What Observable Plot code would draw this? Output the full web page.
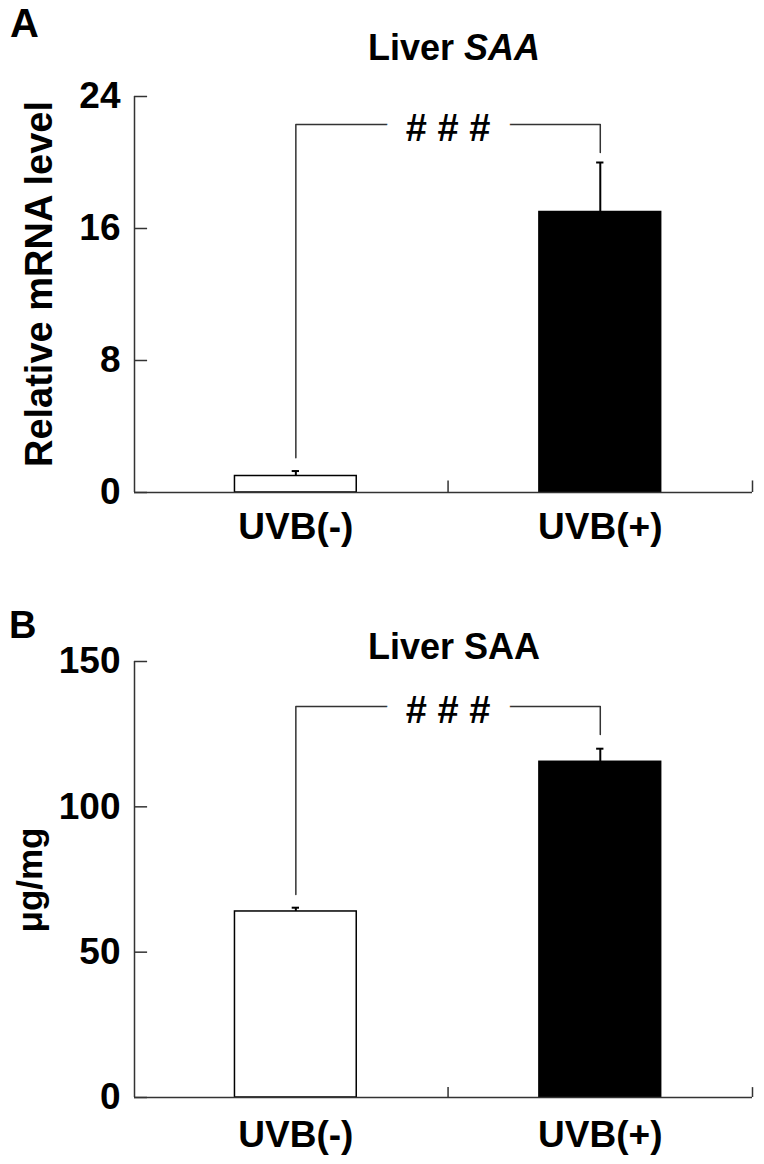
<!DOCTYPE html>
<html><head><meta charset="utf-8">
<script src="https://cdn.jsdelivr.net/npm/d3@7"></script>
<script src="https://cdn.jsdelivr.net/npm/@observablehq/plot@0.6"></script>
<style>
body{margin:0;background:#fff;font-family:"Liberation Sans",Arial,sans-serif;}
#wrap{position:relative;width:764px;height:1164px;overflow:hidden;background:#fff;}
.plotbox{position:absolute;left:0;}
.abs{position:absolute;font-weight:bold;color:#000;line-height:1;white-space:nowrap;z-index:5;}
.rot{transform:translate(-50%,-50%) rotate(-90deg);}
.ctr{transform:translateX(-50%);}
</style></head><body><div id="wrap">
<div class="plotbox" id="pa" style="top:0"></div>
<div class="plotbox" id="pb" style="top:580px"></div>
<div class="abs" style="left:10px;top:3px;font-size:40px">A</div>
<div class="abs ctr" style="left:454px;top:30px;font-size:36px">Liver <i>SAA</i></div>
<div class="abs rot" style="left:39px;top:284px;font-size:38px">Relative mRNA level</div>
<div class="abs" style="left:9px;top:606px;font-size:38px">B</div>
<div class="abs ctr" style="left:454px;top:629px;font-size:36px">Liver SAA</div>
<div class="abs rot" style="left:29px;top:880px;font-size:35px">μg/mg</div>
</div>
<script>
// ---- data ----
const categories = ["UVB(-)", "UVB(+)"];
const mrnaMean = [1.0, 17.0];
const mrnaSem = [0.3, 3.0];
const mrnaTicks = [0, 8, 16, 24];
const mrnaBracket = [2.1, 22.3, 20.6];     // left end, bar level, right end
const proteinMean = [64, 115.5];
const proteinSem = [1.3, 4.5];
const proteinTicks = [0, 50, 100, 150];
const proteinBracket = [69.8, 134.5, 124.9];
const sigLabel = "# # #";

// ---- styles ----
const barFills = ["#fff", "#000"];
const axisColor = "#333";
const font = '"Liberation Sans", Arial, sans-serif';

function panel({means, sems, ticks, bracket, height, marginTop, marginBottom, tickPad, xTickLen}) {
  const rows = categories.map((c, i) => ({c, i, x: i + 0.5, mean: means[i], top: means[i] + sems[i]}));
  const x0 = -0.03, x1 = 2;
  const yMax = ticks[ticks.length - 1];
  const br = [[rows[0].x, bracket[0]], [rows[0].x, bracket[1]], [rows[1].x, bracket[1]], [rows[1].x, bracket[2]]];
  return Plot.plot({
    width: 764, height, marginTop, marginBottom, marginLeft: 134, marginRight: 12,
    x: {domain: [x0, x1], label: null},
    y: {domain: [0, yMax], label: null},
    style: {fontFamily: font, fontWeight: "bold", color: "#000", background: "transparent", overflow: "visible"},
    marks: [
      Plot.rectY(rows, {x1: d => d.x - 0.2, x2: d => d.x + 0.2, y1: 0, y2: "mean", fill: d => barFills[d.i], stroke: "#000", strokeWidth: 1.5}),
      Plot.ruleX(rows, {x: "x", y1: "mean", y2: "top", stroke: "#000", strokeWidth: 2}),
      Plot.ruleY(rows, {y: "top", x1: d => d.x - 0.012, x2: d => d.x + 0.012, stroke: "#000", strokeWidth: 2}),
      Plot.ruleX([x0], {y1: 0, y2: yMax, stroke: axisColor, strokeWidth: 1.5}),
      Plot.ruleY([0], {stroke: axisColor, strokeWidth: 1.5}),
      Plot.ruleY(ticks, {x1: x0, x2: x0 + 0.043, stroke: axisColor, strokeWidth: 1.5}),
      Plot.ruleX([1, 2], {y1: 0, y2: xTickLen, stroke: axisColor, strokeWidth: 1.5}),
      Plot.axisY(ticks, {tickSize: 0, tickPadding: 14, fontSize: 37, fontWeight: "bold", label: null, tickFormat: d => String(d)}),
      Plot.axisX(rows.map(d => d.x), {tickSize: 0, tickPadding: tickPad, fontSize: 37, fontWeight: "bold", label: null, tickFormat: d => categories[Math.floor(d)]}),
      Plot.line(br, {x: d => d[0], y: d => d[1], stroke: axisColor, strokeWidth: 1.5}),
      Plot.text([sigLabel], {x: (rows[0].x + rows[1].x) / 2, y: bracket[1], text: d => d, fontSize: 38, fontWeight: "bold", fill: "#000", stroke: "#fff", strokeWidth: 40, strokeLinejoin: "round", paintOrder: "stroke", dy: 4})
    ]
  });
}

document.getElementById("pa").appendChild(panel({
  means: mrnaMean, sems: mrnaSem, ticks: mrnaTicks, bracket: mrnaBracket,
  height: 560, marginTop: 96, marginBottom: 68, tickPad: 20, xTickLen: 0.7
}));
document.getElementById("pb").appendChild(panel({
  means: proteinMean, sems: proteinSem, ticks: proteinTicks, bracket: proteinBracket,
  height: 580, marginTop: 81, marginBottom: 63, tickPad: 23, xTickLen: 3.4
}));
</script>
</body></html>
